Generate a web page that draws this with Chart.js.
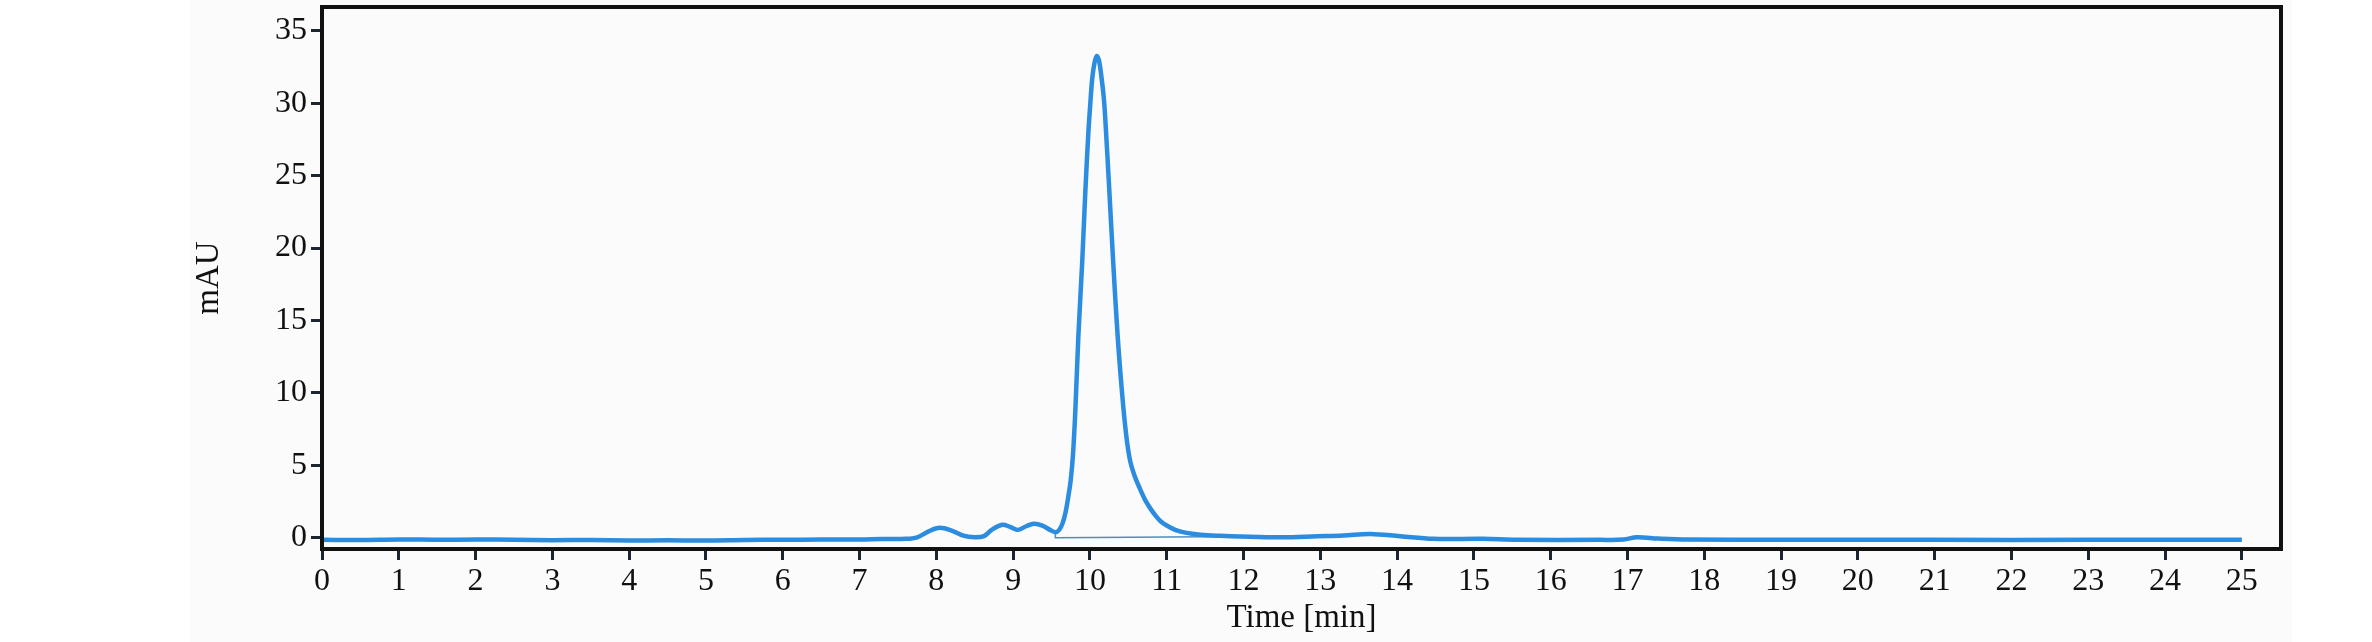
<!DOCTYPE html>
<html>
<head>
<meta charset="utf-8">
<script src="https://cdn.jsdelivr.net/npm/chart.js@4.4.1/dist/chart.umd.min.js"></script>
<style>
  html, body { margin: 0; padding: 0; background: #ffffff; }
  #wrap { position: relative; width: 2372px; height: 642px; }
  #shade { position: absolute; left: 190px; top: 0; width: 2102px; height: 642px; background: #fbfbfb; }
  #chrom { position: absolute; left: 0; top: 0; }
</style>
</head>
<body>
<div id="wrap">
  <div id="shade"></div>
  <canvas id="chrom" width="2372" height="642"></canvas>
</div>
<script>
/************** DATA **************/
// retention time [min]
const times = [
  0, 0.5, 1.0, 1.5, 2.0, 2.5, 3.0, 3.5, 4.0, 4.5, 5.0, 5.5, 6.0, 6.5, 7.0, 7.3, 7.6,
  7.75, 7.9, 8.04, 8.2, 8.35, 8.5, 8.62, 8.72, 8.86, 8.96, 9.06, 9.17, 9.27, 9.38, 9.48,
  9.55, 9.6, 9.64, 9.68, 9.72, 9.75, 9.78, 9.81, 9.85, 9.9, 9.94, 9.98, 10.0, 10.03, 10.06, 10.09,
  10.12, 10.15, 10.18, 10.2, 10.25, 10.3, 10.36, 10.42, 10.47, 10.52, 10.58, 10.65, 10.72,
  10.79, 10.86, 10.92, 11.0, 11.11, 11.24, 11.44, 11.7, 11.96, 12.5, 12.96, 13.3, 13.65,
  14.04, 14.47, 15.12, 15.56, 16.64, 16.95, 17.12, 17.4, 17.78, 19, 21, 23, 25
];
// signal [mAU]
const mAU = [
  -0.14, -0.15, -0.11, -0.13, -0.12, -0.13, -0.16, -0.15, -0.18, -0.17, -0.19, -0.15, -0.13, -0.12, -0.11, -0.08, -0.07,
  0.04, 0.45, 0.69, 0.5, 0.15, 0.04, 0.12, 0.55, 0.9, 0.75, 0.55, 0.8, 0.97, 0.85, 0.55,
  0.39, 0.55, 0.95, 1.7, 2.9, 4.0, 5.8, 8.8, 14.0, 19.1, 23.9, 28.0, 29.6, 31.7, 32.8, 33.26,
  32.9, 31.8, 30.4, 28.9, 24.2, 19.3, 14.0, 9.9, 7.2, 5.4, 4.3, 3.4, 2.6,
  2.0, 1.5, 1.15, 0.85, 0.55, 0.36, 0.22, 0.14, 0.09, 0.04, 0.11, 0.16, 0.27,
  0.11, -0.07, -0.07, -0.14, -0.14, -0.12, 0.04, -0.05, -0.12, -0.13, -0.14, -0.14, -0.14
];
// integration baseline of the main peak (drop line + baseline)
const baseTimes = [9.55, 9.55, 12.0];
const baseValues = [0.39, 0.0, 0.09];

const xTicks = [0,1,2,3,4,5,6,7,8,9,10,11,12,13,14,15,16,17,18,19,20,21,22,23,24,25];
const yTicks = [0,5,10,15,20,25,30,35];

/************** HELPERS **************/
function toPoints(xs, ys) {
  return xs.map((x, i) => ({ x: x, y: ys[i] }));
}

// black box round the plot area
const framePlugin = {
  id: "frame",
  afterDraw(chart) {
    const { ctx, chartArea: a } = chart;
    ctx.save();
    ctx.strokeStyle = "#111111";
    ctx.lineWidth = 4;
    ctx.strokeRect(a.left, a.top, a.right - a.left, a.bottom - a.top);
    ctx.restore();
  }
};

const serif = "'Liberation Serif', 'DejaVu Serif', serif";
const tickFont = { family: serif, size: 32 };
const titleFont = { family: serif, size: 33 };

/************** CHART **************/
const chart = new Chart(document.getElementById("chrom").getContext("2d"), {
  type: "line",
  data: {
    datasets: [
      {
        label: "mAU",
        data: toPoints(times, mAU),
        borderColor: "#2b8ce0",
        borderWidth: 4.5,
        pointRadius: 0,
        tension: 0.35,
        fill: false
      },
      {
        label: "baseline",
        data: toPoints(baseTimes, baseValues),
        borderColor: "#4f8cc4",
        borderWidth: 1.5,
        pointRadius: 0,
        tension: 0,
        fill: false
      }
    ]
  },
  options: {
    responsive: false,
    animation: false,
    devicePixelRatio: 1,
    layout: { padding: { left: 190, right: 91, top: 7, bottom: 0 } },
    plugins: {
      legend: { display: false },
      tooltip: { enabled: false }
    },
    scales: {
      x: {
        type: "linear",
        min: 0,
        max: 25.51,
        afterBuildTicks: s => { s.ticks = xTicks.map(v => ({ value: v })); },
        afterFit: s => { s.height = 93; s.paddingLeft = 0; s.paddingRight = 0; },
        border: { display: false },
        grid: { drawOnChartArea: false, tickLength: 11, tickWidth: 3, tickColor: "#1c2530" },
        ticks: { color: "#111111", font: tickFont, padding: 2, maxRotation: 0, autoSkip: false },
        title: {
          display: true,
          text: "Time [min]",
          color: "#111111",
          font: titleFont,
          padding: { top: 0, bottom: 4 }
        }
      },
      y: {
        min: -0.77,
        max: 36.64,
        afterBuildTicks: s => { s.ticks = yTicks.map(v => ({ value: v })); },
        afterFit: s => { s.width = 132; s.paddingTop = 0; s.paddingBottom = 0; },
        border: { display: false },
        grid: { drawOnChartArea: false, tickLength: 11, tickWidth: 3, tickColor: "#1c2530" },
        ticks: { color: "#111111", font: tickFont, padding: 4 },
        title: {
          display: true,
          text: "mAU",
          color: "#111111",
          font: titleFont,
          padding: { top: 0, bottom: 0 }
        }
      }
    }
  },
  plugins: [framePlugin]
});
</script>
</body>
</html>
